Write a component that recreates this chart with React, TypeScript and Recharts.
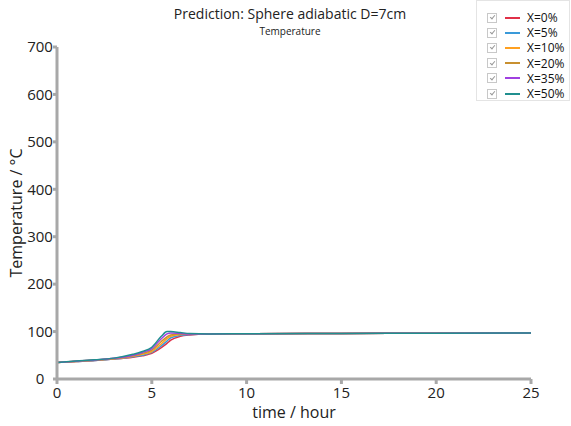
import React from 'react';
import { LineChart, Line, XAxis, YAxis } from 'recharts';

// time in hours
const times = [0, 1, 2, 3, 4, 4.5, 5, 5.5, 5.8, 6, 6.5, 7, 8, 10, 15, 20, 25];

// temperature (°C) per additive fraction
const x0 = [35, 37, 39, 42, 46, 49, 54, 66, 75, 82, 90, 93, 95, 95.5, 96, 96.5, 97];
const x5 = [35, 37, 39, 42, 47, 50, 56, 70, 80, 87, 92, 94, 95, 95.5, 96, 96.5, 97];
const x10 = [35, 37, 39.5, 42.5, 48, 52, 58, 74, 85, 90, 94, 95, 95, 95.5, 96, 96.5, 97];
const x20 = [35, 37.5, 40, 43, 49, 54, 61, 79, 89, 93, 95, 95, 95, 95.5, 96, 96.5, 97];
const x35 = [35, 37.5, 40, 43.5, 50, 56, 64, 85, 95, 97, 96, 95, 95, 95.5, 96, 96.5, 97];
const x50 = [35, 38, 40.5, 44, 52, 58, 67, 90, 100, 100, 98, 96, 95, 95.5, 96, 96.5, 97];

const seriesNames = ['X=0%', 'X=5%', 'X=10%', 'X=20%', 'X=35%', 'X=50%'];
const seriesValues = [x0, x5, x10, x20, x35, x50];
const colors = ['#e03048', '#3a9ad9', '#ffa020', '#c89030', '#a040e0', '#208f8f'];

const xTicks = [0, 5, 10, 15, 20, 25];
const yTicks = [0, 100, 200, 300, 400, 500, 600, 700];

const data = times.map((t, i) => {
  const row: Record<string, number> = { t };
  seriesNames.forEach((name, k) => {
    row[name] = seriesValues[k][i];
  });
  return row;
});

const font = '"Open Sans", "Noto Sans", sans-serif';
const axisColor = '#a8a8a8';

// checkbox drawn with borders only, so no glyph is needed
const CheckBox: React.FC = () => (
  <div style={{ position: 'relative', marginLeft: 10, width: 8, height: 8, border: '1px solid #c8c8c8' }}>
    <div
      style={{
        position: 'absolute', left: 2.5, top: 0.5, width: 2, height: 4,
        borderRight: '1px solid #999', borderBottom: '1px solid #999', transform: 'rotate(40deg)',
      }}
    />
  </div>
);

const Legend: React.FC = () => (
  <div
    style={{
      position: 'absolute', left: 476, top: 0, width: 94, height: 101,
      background: '#fff', border: '1px solid #e4e4e4', boxSizing: 'border-box',
      fontFamily: font, fontSize: 12, color: '#111',
    }}
  >
    {seriesNames.map((name, i) => (
      <div key={name} style={{ position: 'absolute', left: 0, top: 10 + i * 15.2, height: 13, display: 'flex', alignItems: 'center' }}>
        <CheckBox />
        <div style={{ marginLeft: 8, width: 15, height: 2, background: colors[i] }} />
        <div style={{ marginLeft: 7, lineHeight: '13px' }}>{name}</div>
      </div>
    ))}
  </div>
);

const App: React.FC = () => (
  <div style={{ position: 'absolute', left: 0, top: 0, width: 571, height: 426, background: '#fff', fontFamily: font }}>
    <div style={{ position: 'absolute', left: 0, width: 580, top: 4, textAlign: 'center', fontSize: 14, color: '#222' }}>
      Prediction: Sphere adiabatic D=7cm
    </div>
    <div style={{ position: 'absolute', left: 0, width: 580, top: 24, textAlign: 'center', fontSize: 10, color: '#222' }}>
      Temperature
    </div>
    <LineChart width={571} height={426} data={data} margin={{ top: 47, right: 40, bottom: 0, left: 0 }}>
      <XAxis
        dataKey="t"
        type="number"
        domain={[0, 25]}
        ticks={xTicks}
        stroke={axisColor}
        strokeWidth={3}
        tickSize={5}
        tickMargin={3}
        tick={{ fill: '#222', fontSize: 15 }}
        height={47}
        label={{ value: 'time / hour', position: 'insideBottom', offset: 8, fill: '#222', fontSize: 16 }}
      />
      <YAxis
        type="number"
        domain={[0, 700]}
        ticks={yTicks}
        stroke={axisColor}
        strokeWidth={3}
        tickSize={4}
        tickMargin={13}
        tick={{ fill: '#222', fontSize: 15, textAnchor: 'middle' }}
        width={57}
        label={{ value: 'Temperature / °C', angle: -90, position: 'insideLeft', offset: 16, fill: '#222', fontSize: 16, style: { textAnchor: 'middle' } }}
      />
      {seriesNames.map((name, i) => (
        <Line
          key={name}
          dataKey={name}
          stroke={colors[i]}
          strokeWidth={1.5}
          dot={false}
          type="monotone"
          isAnimationActive={false}
        />
      ))}
    </LineChart>
    <Legend />
  </div>
);

export default App;
